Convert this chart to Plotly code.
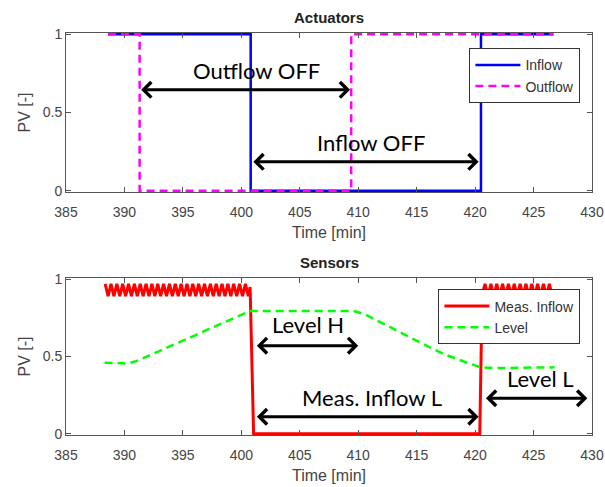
import plotly.graph_objects as go

# ---------------- data ----------------
inflow_t = [388.6, 400.8, 400.8, 420.5, 420.5, 426.7]
inflow_v = [1, 1, 0, 0, 1, 1]

outflow_t = [388.6, 391.3, 391.3, 409.4, 409.4, 426.7]
outflow_v = [1, 1, 0, 0, 1, 1]

meas_t = [388.35, 388.60, 388.85, 389.10, 389.35, 389.60, 389.85, 390.10, 390.35, 390.60,
          390.85, 391.10, 391.35, 391.60, 391.85, 392.10, 392.35, 392.60, 392.85, 393.10,
          393.35, 393.60, 393.85, 394.10, 394.35, 394.60, 394.85, 395.10, 395.35, 395.60,
          395.85, 396.10, 396.35, 396.60, 396.85, 397.10, 397.35, 397.60, 397.85, 398.10,
          398.35, 398.60, 398.85, 399.10, 399.35, 399.60, 399.85, 400.10, 400.35, 400.60,
          400.75, 401.05, 420.40,
          420.60, 420.85, 421.10, 421.35, 421.60, 421.85, 422.10, 422.35, 422.60, 422.85,
          423.10, 423.35, 423.60, 423.85, 424.10, 424.35, 424.60, 424.85, 425.10, 425.35,
          425.60, 425.85, 426.10, 426.35, 426.60, 426.85]
meas_v = [0.97, 0.89, 0.97, 0.89, 0.97, 0.89, 0.97, 0.89, 0.97, 0.89,
          0.97, 0.89, 0.97, 0.89, 0.97, 0.89, 0.97, 0.89, 0.97, 0.89,
          0.97, 0.89, 0.97, 0.89, 0.97, 0.89, 0.97, 0.89, 0.97, 0.89,
          0.97, 0.89, 0.97, 0.89, 0.97, 0.89, 0.97, 0.89, 0.97, 0.89,
          0.97, 0.89, 0.97, 0.89, 0.97, 0.89, 0.97, 0.89, 0.97, 0.89,
          0.95, 0.0, 0.0,
          0.90, 0.97, 0.89, 0.97, 0.89, 0.97, 0.89, 0.97, 0.89, 0.97,
          0.89, 0.97, 0.89, 0.97, 0.89, 0.97, 0.89, 0.97, 0.89, 0.97,
          0.89, 0.97, 0.89, 0.97, 0.89, 0.93]

level_t = [388.3, 390.3, 391.0, 392.0, 393.0, 394.0, 395.0, 396.0, 397.0, 398.0, 399.0,
           400.0, 400.8, 409.6, 410.5, 411.5, 412.5, 413.5, 414.5, 415.5, 416.5, 417.5,
           418.5, 419.5, 420.5, 421.5, 426.8]
level_v = [0.46, 0.455, 0.47, 0.50, 0.535, 0.57, 0.60, 0.635, 0.67, 0.705, 0.74,
           0.77, 0.795, 0.795, 0.775, 0.74, 0.70, 0.66, 0.62, 0.58, 0.545, 0.51,
           0.48, 0.455, 0.43, 0.425, 0.43]

# double-headed arrows with labels
arrow_x0 = [391.3, 400.9, 401.2, 401.2, 420.8]
arrow_x1 = [409.3, 420.3, 410.0, 420.3, 429.6]
arrow_y = [0.645, 0.185, 0.57, 0.11, 0.23]
arrow_label = ["Outflow OFF", "Inflow OFF", "Level H", "Meas. Inflow L", "Level L"]
label_x = [401.3, 411.1, 405.7, 411.2, 425.6]
label_y = [0.77, 0.31, 0.71, 0.235, 0.36]
arrow_axis = ["1", "1", "2", "2", "2"]

x_ticks = [385, 390, 395, 400, 405, 410, 415, 420, 425, 430]
y_ticks = [0, 0.5, 1]
y_ticktext = ["0", "0.5", "1"]

# ---------------- figure ----------------
fig = go.Figure()
fig.add_trace(go.Scatter(x=inflow_t, y=inflow_v, mode="lines", name="Inflow",
                         line=dict(color="#0000ff", width=2.5), xaxis="x", yaxis="y",
                         legend="legend"))
fig.add_trace(go.Scatter(x=outflow_t, y=outflow_v, mode="lines", name="Outflow",
                         line=dict(color="#ff00ff", width=2.5, dash="8px,5px"),
                         xaxis="x", yaxis="y", legend="legend"))
fig.add_trace(go.Scatter(x=meas_t, y=meas_v, mode="lines", name="Meas. Inflow",
                         line=dict(color="#ff0000", width=3), xaxis="x2", yaxis="y2",
                         legend="legend2"))
fig.add_trace(go.Scatter(x=level_t, y=level_v, mode="lines", name="Level",
                         line=dict(color="#00ff00", width=2.5, dash="8px,5px"),
                         xaxis="x2", yaxis="y2", legend="legend2"))

axcol = "#555555"
txtcol = "#444444"
font_family = "Liberation Sans, Arial, sans-serif"
common_x = dict(range=[385, 430], tickvals=x_ticks, ticks="inside", ticklen=5,
                tickcolor=axcol, showline=True, linecolor=axcol, linewidth=1,
                mirror="ticks", showgrid=False, zeroline=False, ticklabelstandoff=7,
                automargin=False,
                tickfont=dict(size=14, color=txtcol, family=font_family),
                title=dict(text="Time [min]", font=dict(size=16, color=txtcol,
                                                         family=font_family), standoff=8))
common_y = dict(range=[-0.008, 1.008], tickvals=y_ticks, ticktext=y_ticktext, ticks="inside",
                ticklen=5, tickcolor=axcol, showline=True, linecolor=axcol, linewidth=1,
                mirror="ticks", showgrid=False, zeroline=False, automargin=False,
                tickfont=dict(size=14, color=txtcol, family=font_family),
                title=dict(text="PV [-]", font=dict(size=16, color=txtcol,
                                                     family=font_family), standoff=8))

top_dom = [0.6045, 1.0]
bot_dom = [0.0, 0.3905]

legend_common = dict(xanchor="right", yanchor="top", bgcolor="white",
                     bordercolor="#333333", borderwidth=1, itemwidth=45,
                     font=dict(size=14, color="#333333", family=font_family),
                     tracegroupgap=0)

fig.update_layout(
    width=605, height=487,
    margin=dict(l=66, r=13, t=33, b=52, autoexpand=False),
    paper_bgcolor="white", plot_bgcolor="white",
    font=dict(family=font_family),
    xaxis=dict(common_x, domain=[0, 1], anchor="y"),
    yaxis=dict(common_y, domain=top_dom, anchor="x"),
    xaxis2=dict(common_x, domain=[0, 1], anchor="y2"),
    yaxis2=dict(common_y, domain=bot_dom, anchor="x2"),
    legend=dict(legend_common, x=0.978, y=0.962),
    legend2=dict(legend_common, x=0.978, y=0.362),
    showlegend=True,
)

annotations = []
for title, ax in [("Actuators", "1"), ("Sensors", "2")]:
    suffix = "" if ax == "1" else "2"
    annotations.append(dict(text="<b>" + title + "</b>", x=0.5, y=1,
                            xref="x" + suffix + " domain", yref="y" + suffix + " domain",
                            xanchor="center", yanchor="bottom", yshift=5, showarrow=False,
                            font=dict(size=15, color="#222222", family=font_family)))

for i in range(len(arrow_label)):
    suffix = "" if arrow_axis[i] == "1" else "2"
    annotations.append(dict(x=arrow_x1[i], y=arrow_y[i], ax=arrow_x0[i], ay=arrow_y[i],
                            xref="x" + suffix, yref="y" + suffix,
                            axref="x" + suffix, ayref="y" + suffix,
                            text="", showarrow=True, arrowhead=4, startarrowhead=4,
                            arrowside="end+start", arrowwidth=3, arrowsize=1,
                            startarrowsize=1, arrowcolor="black"))
    annotations.append(dict(x=label_x[i], y=label_y[i], xref="x" + suffix,
                            yref="y" + suffix, text=arrow_label[i], showarrow=False,
                            xanchor="center", yanchor="middle",
                            font=dict(size=22, color="black", family="Lato, sans-serif")))

fig.update_layout(annotations=annotations)

fig.write_html("out.html")
